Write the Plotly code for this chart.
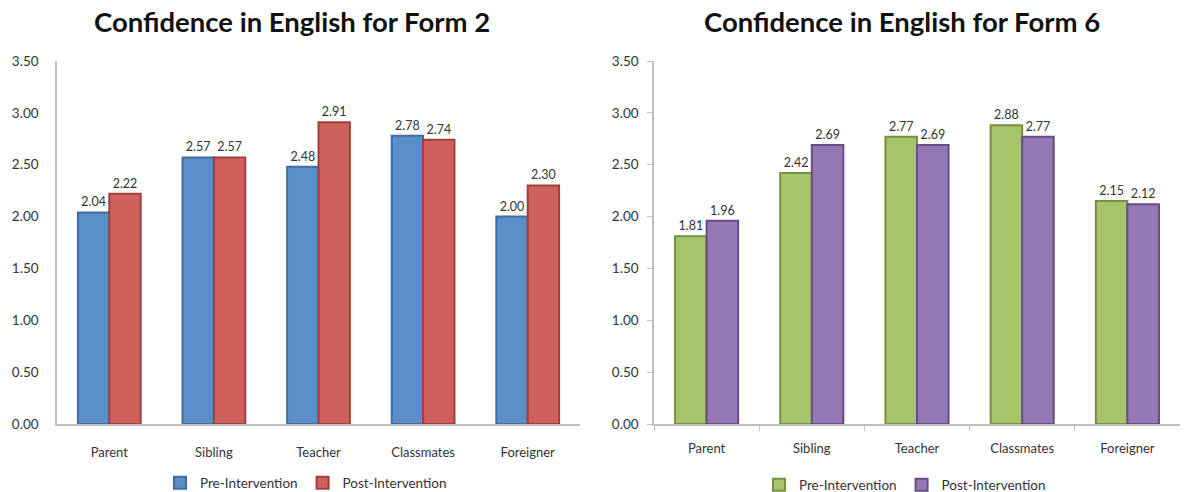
import plotly.graph_objects as go

categories = ["Parent", "Sibling", "Teacher", "Classmates", "Foreigner"]

form2_pre = [2.04, 2.57, 2.48, 2.78, 2.00]
form2_post = [2.22, 2.57, 2.91, 2.74, 2.30]

form6_pre = [1.81, 2.42, 2.77, 2.88, 2.15]
form6_post = [1.96, 2.69, 2.69, 2.77, 2.12]

y_ticks = [0, 0.5, 1.0, 1.5, 2.0, 2.5, 3.0, 3.5]

FONT = "Lato"
W, H = 1184, 492

fig = go.Figure()


def add_bars(values, name, fill, edge, xa, ya, legend):
    fig.add_trace(go.Bar(
        x=categories, y=values, name=name,
        marker=dict(color=fill, line=dict(color=edge, width=2)),
        text=[f"{v:.2f}" for v in values], textposition="outside",
        textfont=dict(size=12.5, color="#333333", family=FONT),
        cliponaxis=False, xaxis=xa, yaxis=ya, legend=legend,
    ))


add_bars(form2_pre, "Pre-Intervention", "#5B8FC9", "#3F6E9F", "x", "y", "legend")
add_bars(form2_post, "Post-Intervention", "#D0605C", "#A0403D", "x", "y", "legend")
add_bars(form6_pre, "Pre-Intervention", "#A6C46A", "#76923E", "x2", "y2", "legend2")
add_bars(form6_post, "Post-Intervention", "#9479B4", "#654E84", "x2", "y2", "legend2")

y_bot = 1 - 424 / H
y_top = 1 - 61 / H

axis_common = dict(showgrid=False, zeroline=False, showline=True,
                   linecolor="#BFBFBF", linewidth=1.5, automargin=False)

xtick_font = dict(size=13, color="#333333", family=FONT)
ytick_font = dict(size=13.5, color="#333333", family=FONT)

fig.update_layout(
    width=W, height=H,
    margin=dict(l=0, r=0, t=0, b=0, autoexpand=False),
    paper_bgcolor="white", plot_bgcolor="white",
    barmode="group", bargap=0.4, bargroupgap=0.0,
    font=dict(family=FONT, color="#333333"),
    xaxis=dict(domain=[57 / W, 580 / W], anchor="y", ticks="",
               ticklabelstandoff=16, tickfont=xtick_font, **axis_common),
    yaxis=dict(domain=[y_bot, y_top], anchor="x", range=[0, 3.5],
               tickvals=y_ticks, tickformat=".2f", ticks="",
               ticklabelstandoff=14, tickfont=ytick_font, **axis_common),
    xaxis2=dict(domain=[654 / W, 1180 / W], anchor="y2", ticks="outside",
                tickson="boundaries", ticklen=5, tickcolor="#BFBFBF",
                ticklabelstandoff=12, tickfont=xtick_font, **axis_common),
    yaxis2=dict(domain=[y_bot, y_top], anchor="x2", range=[0, 3.5],
                tickvals=y_ticks, tickformat=".2f", ticks="outside",
                ticklen=5, tickcolor="#BFBFBF", ticklabelstandoff=6,
                tickfont=ytick_font, **axis_common),
    legend=dict(orientation="h", x=306 / W, xanchor="center",
                y=1 - 483 / H, yanchor="middle",
                font=dict(size=13.5, color="#333333", family=FONT),
                itemwidth=30, tracegroupgap=0),
    legend2=dict(orientation="h", x=905 / W, xanchor="center",
                 y=1 - 485 / H, yanchor="middle",
                 font=dict(size=13.5, color="#333333", family=FONT),
                 itemwidth=30, tracegroupgap=0),
    showlegend=True,
    annotations=[
        dict(text="<b>Confidence in English for Form 2</b>", x=292 / W,
             y=1 - 22 / H, xref="paper", yref="paper", showarrow=False,
             xanchor="center", yanchor="middle",
             font=dict(size=27.5, color="#111111", family=FONT)),
        dict(text="<b>Confidence in English for Form 6</b>", x=902 / W,
             y=1 - 22 / H, xref="paper", yref="paper", showarrow=False,
             xanchor="center", yanchor="middle",
             font=dict(size=27.5, color="#111111", family=FONT)),
    ],
)

fig.write_html("out.html")
